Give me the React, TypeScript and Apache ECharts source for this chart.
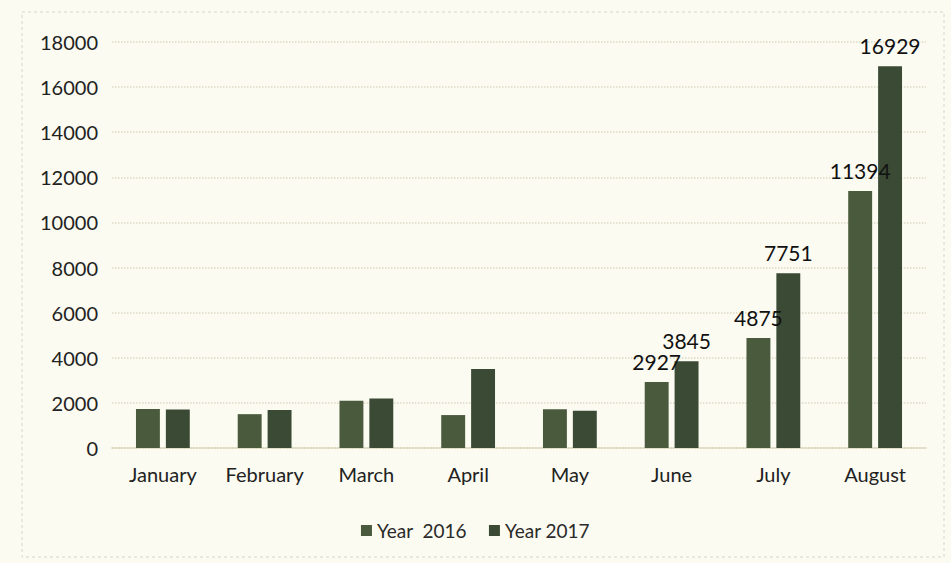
import React, { useEffect, useRef } from "react";
import * as echarts from "echarts";

const months = ["January", "February", "March", "April", "May", "June", "July", "August"];
const year2016 = [1730, 1500, 2100, 1460, 1720, 2927, 4875, 11394];
const year2017 = [1710, 1690, 2200, 3500, 1650, 3845, 7751, 16929];
const labeledMonths = ["June", "July", "August"];
const seriesNames = ["Year  2016", "Year 2017"];
const yTicks = { min: 0, max: 18000, interval: 2000 };

const FONT = "Lato, 'Open Sans', sans-serif";

export default function App() {
  const ref = useRef<HTMLDivElement>(null);
  useEffect(() => {
    if (!ref.current) return;
    const chart = echarts.init(ref.current, undefined, { renderer: "svg" });
    const mk = (vals: number[]) =>
      vals.map((v, i) => ({
        value: v,
        label: { show: labeledMonths.includes(months[i]) },
      }));
    const labelStyle = {
      position: "top" as const,
      distance: 10,
      color: "#111",
      fontSize: 21,
      fontFamily: FONT,
    };
    chart.setOption({
      animation: false,
      backgroundColor: "#fbfbf1",
      textStyle: { fontFamily: FONT },
      graphic: [
        {
          type: "rect",
          shape: { x: 22, y: 12, width: 922, height: 545 },
          style: { fill: "none", stroke: "#d6d6c6", lineWidth: 1, lineDash: [3, 3] },
          silent: true,
        },
      ],
      grid: { left: 112, right: 25, top: 42, bottom: 115 },
      legend: {
        data: seriesNames,
        left: "center",
        top: 516,
        itemWidth: 11,
        itemHeight: 11,
        itemGap: 22,
        icon: "rect",
        textStyle: { fontSize: 19, color: "#2a2a2a", fontFamily: FONT },
      },
      xAxis: {
        type: "category",
        data: months,
        axisLine: { show: true, lineStyle: { color: "#d9d3b8", type: "dotted", width: 1.5 } },
        axisTick: { show: false },
        axisLabel: { fontSize: 20, color: "#222", margin: 16, fontFamily: FONT },
      },
      yAxis: {
        type: "value",
        min: yTicks.min,
        max: yTicks.max,
        interval: yTicks.interval,
        axisLine: { show: false },
        axisTick: { show: false },
        axisLabel: {
          fontSize: 20,
          color: "#222",
          margin: 14,
          fontFamily: FONT,
          formatter: (v: number) => String(v),
        },
        splitLine: { lineStyle: { color: "#ddd9c4", type: "dotted", width: 1.5 } },
      },
      series: [
        {
          name: seriesNames[0],
          type: "bar",
          data: mk(year2016),
          barWidth: "23.5%",
          barGap: "25%",
          itemStyle: { color: "#4a5a3d" },
          label: labelStyle,
        },
        {
          name: seriesNames[1],
          type: "bar",
          data: mk(year2017),
          barWidth: "23.5%",
          itemStyle: { color: "#3a4a34" },
          label: labelStyle,
        },
      ],
    });
    return () => chart.dispose();
  }, []);
  return <div ref={ref} style={{ width: 951, height: 563, position: "absolute", left: 0, top: 0 }} />;
}
